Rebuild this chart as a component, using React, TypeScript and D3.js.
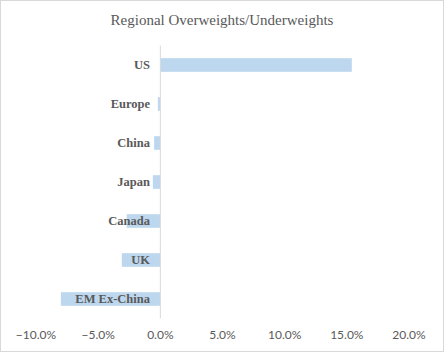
import React, { useEffect, useRef } from 'react';
import * as d3 from 'd3';

const regions = ['US', 'Europe', 'China', 'Japan', 'Canada', 'UK', 'EM Ex-China'];
const weights = [15.4, -0.2, -0.5, -0.6, -2.7, -3.1, -8.0];
const ticks = [-10, -5, 0, 5, 10, 15, 20];

const W = 444;
const H = 352;

const App: React.FC = () => {
  const svgRef = useRef<SVGSVGElement>(null);

  useEffect(() => {
    if (!svgRef.current) return;
    const svg = d3.select(svgRef.current);
    svg.selectAll('*').remove();

    // chart border
    svg.append('rect')
      .attr('x', 0.5).attr('y', 0.5)
      .attr('width', W - 1).attr('height', H - 1)
      .attr('fill', '#fff')
      .attr('stroke', '#d9d9d9');

    svg.append('text')
      .attr('x', W / 2)
      .attr('y', 25)
      .attr('text-anchor', 'middle')
      .attr('font-family', 'Liberation Serif, serif')
      .attr('font-size', 15)
      .attr('fill', '#595959')
      .text('Regional Overweights/Underweights');

    const x = d3.scaleLinear().domain([-10, 20]).range([36, 409]);
    const y = d3.scaleBand().domain(regions).range([45.5, 318.5]).paddingInner(0.65).paddingOuter(0.325);

    svg.append('g')
      .selectAll('rect')
      .data(weights)
      .join('rect')
      .attr('x', d => x(Math.min(0, d)))
      .attr('y', (d, i) => y(regions[i]) as number)
      .attr('width', d => Math.abs(x(d) - x(0)))
      .attr('height', y.bandwidth())
      .attr('fill', '#bdd7ee');

    // zero axis line
    svg.append('line')
      .attr('x1', x(0)).attr('x2', x(0))
      .attr('y1', 45.5).attr('y2', 318.5)
      .attr('stroke', '#d9d9d9')
      .attr('stroke-width', 1);

    // category labels
    svg.append('g')
      .selectAll('text')
      .data(regions)
      .join('text')
      .attr('x', 150)
      .attr('y', d => (y(d) as number) + y.bandwidth() / 2)
      .attr('dy', '0.35em')
      .attr('text-anchor', 'end')
      .attr('font-family', 'Liberation Serif, serif')
      .attr('font-weight', 'bold')
      .attr('font-size', 12.5)
      .attr('fill', '#595959')
      .text(d => d);

    // value axis labels
    svg.append('g')
      .selectAll('text')
      .data(ticks)
      .join('text')
      .attr('x', d => x(d))
      .attr('y', 335)
      .attr('dy', '0.35em')
      .attr('text-anchor', 'middle')
      .attr('font-family', 'Lato, Open Sans, sans-serif')
      .attr('font-size', 12)
      .attr('fill', '#595959')
      .text(d => d3.format('.1f')(d) + '%');
  }, []);

  return (
    <svg
      ref={svgRef}
      width={W}
      height={H}
      style={{ position: 'fixed', left: 0, top: 0 }}
    />
  );
};

export default App;
